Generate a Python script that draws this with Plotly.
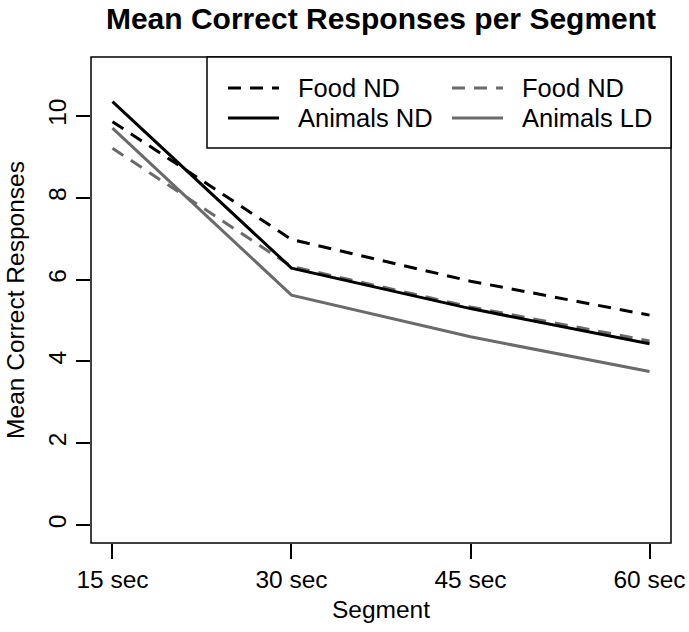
import plotly.graph_objects as go

segments = ["15 sec", "30 sec", "45 sec", "60 sec"]
x_pos = [1, 2, 3, 4]
food_nd = [9.86, 6.98, 5.96, 5.13]
animals_nd = [10.35, 6.28, 5.29, 4.43]
food_nd_gray = [9.21, 6.32, 5.33, 4.50]
animals_ld = [9.70, 5.62, 4.60, 3.75]
y_ticks = [0, 2, 4, 6, 8, 10]

FONT = "Liberation Sans, Arial, Helvetica, sans-serif"
GRAY = "#6a6a6a"
DASH = "13px,9px"

series = [
    ("Food ND", food_nd, "black", DASH),
    ("Food ND", food_nd_gray, GRAY, DASH),
    ("Animals ND", animals_nd, "black", "solid"),
    ("Animals LD", animals_ld, GRAY, "solid"),
]

fig = go.Figure()
for name, vals, col, dash in series:
    fig.add_trace(go.Scatter(x=x_pos, y=vals, mode="lines", name=name,
                             line=dict(color=col, width=3, dash=dash),
                             showlegend=False))

W, H = 689, 632
ml, mr, mt, mb = 91, 18, 57, 89
pw, ph = W - ml - mr, H - mt - mb

def px(xp):
    return (xp - ml) / pw

def py(yp):
    return (H - mb - yp) / ph

shapes = [
    dict(type="rect", xref="paper", yref="paper", x0=0, x1=1, y0=0, y1=1,
         line=dict(color="black", width=1.5), fillcolor="rgba(0,0,0,0)"),
    dict(type="rect", xref="paper", yref="paper", x0=px(207), x1=1, y0=py(148), y1=1,
         line=dict(color="black", width=1.5), fillcolor="white"),
]
annotations = []
legend_items = [
    (series[0], 228, 279, 297, 88),
    (series[2], 228, 279, 297, 118),
    (series[1], 452, 503, 521, 88),
    (series[3], 452, 503, 521, 118),
]
for (name, vals, col, dash), lx0, lx1, tx, yy in legend_items:
    shapes.append(dict(type="line", xref="paper", yref="paper",
                       x0=px(lx0), x1=px(lx1), y0=py(yy), y1=py(yy),
                       line=dict(color=col, width=3, dash=dash)))
    annotations.append(dict(xref="paper", yref="paper", x=px(tx), y=py(yy),
                            text=name, showarrow=False, xanchor="left", yanchor="middle",
                            xshift=-1,
                            font=dict(family=FONT, size=25.5, color="black")))

fig.update_layout(
    width=W, height=H,
    margin=dict(l=ml, r=mr, t=mt, b=mb, autoexpand=False),
    paper_bgcolor="white", plot_bgcolor="white",
    title=dict(text="<b>Mean Correct Responses per Segment</b>",
               x=(ml + pw / 2) / W, xanchor="center", y=1 - 18 / H, yanchor="middle",
               font=dict(family=FONT, size=30, color="black")),
    xaxis=dict(range=[0.88, 4.12], tickmode="array", tickvals=x_pos, ticktext=segments,
               showgrid=False, zeroline=False, showline=False, automargin=False,
               ticks="outside", ticklen=15, tickwidth=1.5, tickcolor="black",
               tickfont=dict(family=FONT, size=24.5, color="black"),
               title=dict(text="Segment", font=dict(family=FONT, size=24.5, color="black"),
                          standoff=8)),
    yaxis=dict(range=[-0.44, 11.44], tickmode="array", tickvals=y_ticks,
               ticktext=[str(v) for v in y_ticks], tickangle=-90,
               showgrid=False, zeroline=False, showline=False, automargin=False,
               ticks="outside", ticklen=14, tickwidth=1.5, tickcolor="black",
               tickfont=dict(family=FONT, size=24.5, color="black"),
               title=dict(text="Mean Correct Responses", font=dict(family=FONT, size=24.5, color="black"),
                          standoff=12)),
    shapes=shapes,
    annotations=annotations,
    showlegend=False,
)

fig.write_html("out.html", config={"displayModeBar": False},
               post_script="document.body.style.margin='0';document.body.style.overflow='hidden';")
